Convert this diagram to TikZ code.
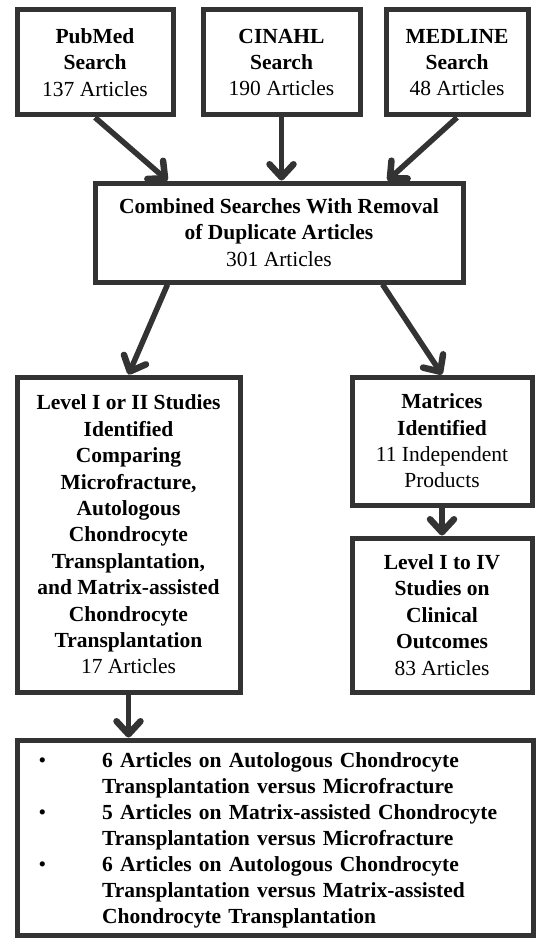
\documentclass[tikz,border=0pt]{standalone}
\usepackage{fontspec}
\setmainfont{Liberation Serif}
\usetikzlibrary{arrows.meta,calc}
\definecolor{ink}{HTML}{333333}
\begin{document}
\begin{tikzpicture}[x=1pt,y=-1pt,
  box/.style={draw=ink,line width=5pt,fill=white,inner sep=0pt,align=center,font=\fontsize{21.5}{26.4}\selectfont},
  arr/.style={draw=ink,line width=5.5pt,-{Straight Barb[length=13pt,width=24pt,line width=6.5pt,round]}}]
\useasboundingbox (0,0) rectangle (538,939);
\node[box,minimum width=156,minimum height=105] (pub) at (95,62.5) {\textbf{PubMed}\\\textbf{Search}\\137 Articles};
\node[box,minimum width=157,minimum height=105] (cin) at (281.5,62.5) {\textbf{CINAHL}\\\textbf{Search}\\190 Articles};
\node[box,minimum width=142,minimum height=105] (med) at (457,62.5) {\textbf{MEDLINE}\\\textbf{Search}\\48 Articles};
\node[box,minimum width=368,minimum height=99] (comb) at (279,232.5) {\textbf{Combined Searches With Removal}\\\textbf{of Duplicate Articles}\\301 Articles};
\node[box,minimum width=223,minimum height=315] (lev) at (128.5,534.5) {\textbf{Level I or II Studies}\\\textbf{Identified}\\\textbf{Comparing}\\\textbf{Microfracture,}\\\textbf{Autologous}\\\textbf{Chondrocyte}\\\textbf{Transplantation,}\\\textbf{and Matrix-assisted}\\\textbf{Chondrocyte}\\\textbf{Transplantation}\\17 Articles};
\node[box,minimum width=180,minimum height=128] (mat) at (442,441) {\textbf{Matrices}\\\textbf{Identified}\\11 Independent\\Products};
\node[box,minimum width=180,minimum height=154] (liv) at (442,615) {\textbf{Level I to IV}\\\textbf{Studies on}\\\textbf{Clinical}\\\textbf{Outcomes}\\83 Articles};
\node[box,minimum width=516,minimum height=195] (bot) at (275,837.5) {};
\node[anchor=north west,inner sep=0pt,align=left,font=\fontsize{21.5}{26}\selectfont\bfseries,text width=425pt] (btxt) at (102,752.5)
{\makebox[0pt][r]{\normalfont\textbullet\hspace{56pt}}6 Articles on Autologous Chondrocyte\\
Transplantation versus Microfracture\\
\makebox[0pt][r]{\normalfont\textbullet\hspace{56pt}}5 Articles on Matrix-assisted Chondrocyte\\
Transplantation versus Microfracture\\
\makebox[0pt][r]{\normalfont\textbullet\hspace{56pt}}6 Articles on Autologous Chondrocyte\\
Transplantation versus Matrix-assisted\\
Chondrocyte Transplantation};
\draw[arr] (pub.south) -- ($(comb.north west)+(75,0)$);
\draw[arr] (cin.south) -- (cin.south |- comb.north);
\draw[arr] (med.south) -- ($(comb.north west)+(295,0)$);
\draw[arr] ($(comb.south west)+(75,0)$) -- (lev.north);
\draw[arr] ($(comb.south west)+(290,0)$) -- (mat.north);
\draw[arr] (mat.south) -- (liv.north);
\draw[arr] (lev.south) -- (lev.south |- bot.north);
\end{tikzpicture}
\end{document}
